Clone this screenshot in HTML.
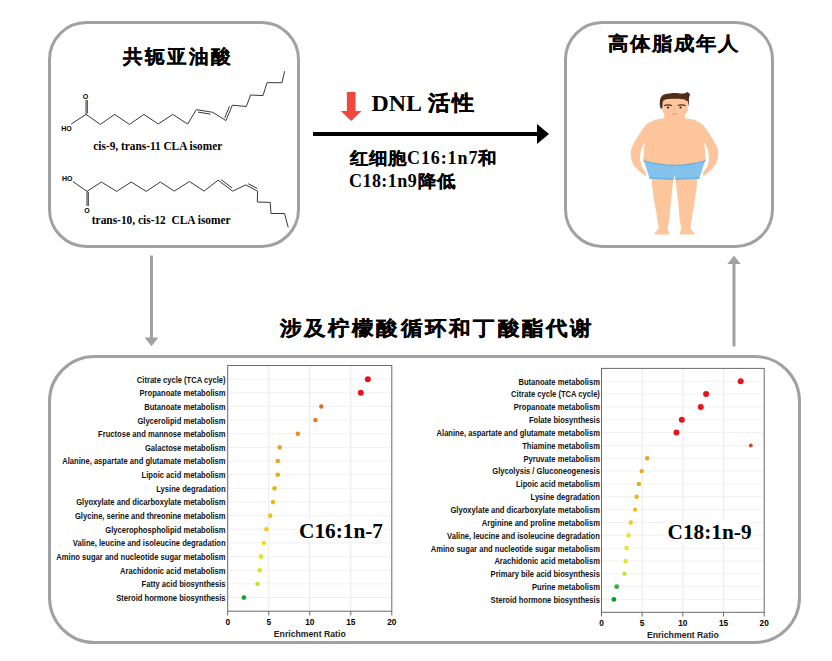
<!DOCTYPE html>
<html><head><meta charset="utf-8">
<style>
html,body{margin:0;padding:0;background:#fff;width:832px;height:661px;overflow:hidden}
svg{display:block}
.cjk{font-family:"Liberation Sans",sans-serif;font-weight:700}
.ser{font-family:"Liberation Serif",serif;font-weight:700}
.lab{font-family:"Liberation Sans",sans-serif;font-weight:700}
</style></head><body>
<svg width="832" height="661" viewBox="0 0 832 661">

<rect x="49.5" y="22.5" width="249" height="224" rx="37" ry="37" fill="none" stroke="#a1a1a1" stroke-width="3"/>
<rect x="565.5" y="22.5" width="207" height="224" rx="37" ry="37" fill="none" stroke="#a1a1a1" stroke-width="3"/>
<rect x="49.5" y="356.5" width="750" height="286" rx="45" ry="45" fill="none" stroke="#a1a1a1" stroke-width="3"/>
<line x1="151.5" y1="255.5" x2="151.5" y2="338" stroke="#a1a1a1" stroke-width="3"/>
<path d="M144.6 337.4 L158.4 337.4 L151.5 346.2 Z" fill="#a1a1a1"/>
<line x1="734" y1="263" x2="734" y2="346.5" stroke="#a1a1a1" stroke-width="3"/>
<path d="M727.3 264 L740.7 264 L734 255.5 Z" fill="#a1a1a1"/>
<line x1="313" y1="134" x2="539" y2="134" stroke="#000" stroke-width="4"/>
<path d="M537 124 L549 134 L537 144 Z" fill="#000"/>
<path d="M346.9 92 L355.5 92 L355.5 111 L361.5 111 L351.2 120.9 L340.9 111 L346.9 111 Z" fill="#f1453e"/>
<text class="cjk" transform="translate(123 63.4) scale(1 0.97)" x="0" y="0" font-size="19.6" letter-spacing="2.7" stroke="#000" stroke-width="0.2">共轭亚油酸</text>
<text class="cjk" transform="translate(608 50.0) scale(1 0.93)" x="0" y="0" font-size="20.3" letter-spacing="1.3" stroke="#000" stroke-width="0.1">高体脂成年人</text>
<text class="cjk" transform="translate(279.5 334.8) scale(1 0.93)" x="0" y="0" font-size="21.5" letter-spacing="2.5" stroke="#000" stroke-width="0.25">涉及柠檬酸循环和丁酸酯代谢</text>
<text class="ser" x="371.5" y="111.1" font-size="23.9">DNL</text>
<text class="cjk" transform="translate(427.5 110.2) scale(1 0.95)" x="0" y="0" font-size="22" letter-spacing="3.2" stroke="#000" stroke-width="0.3">活性</text>
<text class="cjk" transform="translate(349.5 163.5) scale(1 0.92)" x="0" y="0" font-size="18" letter-spacing="1.7" stroke="#000" stroke-width="0.15">红细胞</text>
<text class="ser" x="407" y="163.5" font-size="18" letter-spacing="0.9">C16:1n7</text>
<text class="cjk" transform="translate(478.2 163.5) scale(1 0.92)" x="0" y="0" font-size="18" letter-spacing="0" stroke="#000" stroke-width="0.15">和</text>
<text class="ser" x="349" y="186.5" font-size="18" letter-spacing="0.45">C18:1n9</text>
<text class="cjk" transform="translate(417.6 186.5) scale(1 0.92)" x="0" y="0" font-size="18" letter-spacing="1.7" stroke="#000" stroke-width="0.15">降低</text>
<text class="ser" transform="translate(93.3 150.2) scale(0.9 1)" x="0" y="0" font-size="12.6">cis-9, trans-11 CLA isomer</text>
<text class="ser" transform="translate(91.8 223.5) scale(0.905 1)" x="0" y="0" font-size="12.6" xml:space="preserve">trans-10, cis-12  CLA isomer</text>
<polyline points="71.2,124 86,114.4 100.4,124.4 114.5,114.4 129.5,124.4 143.9,114.4 158.3,124 172.7,114.4 187.7,124 196.3,109.6 212.7,112.3 226,120.6 232.3,105.2 246.3,106.5 250.6,95 263,95.6 267,82.7 282,82.7 284.6,71.2" fill="none" stroke="#383838" stroke-width="1" stroke-linejoin="miter"/>
<line x1="86" y1="114.4" x2="86" y2="100" stroke="#383838" stroke-width="1"/>
<line x1="87.3" y1="113.5" x2="87.3" y2="100" stroke="#383838" stroke-width="1"/>
<text class="lab" x="85.6" y="98.7" font-size="7" text-anchor="middle">O</text>
<text class="lab" x="66.4" y="131" font-size="7" text-anchor="middle">HO</text>
<line x1="197.91" y1="112.09" x2="210.37" y2="114.15" stroke="#383838" stroke-width="1"/>
<line x1="224.72" y1="117.92" x2="229.51" y2="106.22" stroke="#383838" stroke-width="1"/>
<polyline points="73,181.6 87,191.4 101.4,182 116.7,191.4 131.2,182 146.2,191.4 160.3,182 174.3,191.1 189.4,181.5 204.1,191.1 218,180.2 232.7,191.1 245.8,184.9 257.6,191.1 257.3,202 270.2,202.4 271,213.5 284.5,213.5 288.2,227.3" fill="none" stroke="#383838" stroke-width="1"/>
<line x1="87" y1="191.4" x2="87" y2="206" stroke="#383838" stroke-width="1"/>
<line x1="88.3" y1="192" x2="88.3" y2="206" stroke="#383838" stroke-width="1"/>
<text class="lab" x="87" y="213" font-size="7" text-anchor="middle">O</text>
<text class="lab" x="67.3" y="181.3" font-size="7" text-anchor="middle">HO</text>
<line x1="221.07" y1="179.74" x2="232.25" y2="188.02" stroke="#383838" stroke-width="1"/>
<line x1="248.24" y1="183.70" x2="257.21" y2="188.41" stroke="#383838" stroke-width="1"/>
<path d="M662.6 118.5 C654 119.5 647 122.5 643.5 128 C639 135 633.5 142 631 150 C630 157 632 164 636.5 168.5 C639.5 171.5 642.5 174 645.8 176.2 C646.6 174 645.8 172 644.5 170.5 C641.2 167 639.8 161 640.2 155 C640.6 150 642.2 146 644.8 142.5 Z" fill="#fcc59c"/>
<path d="M 686.40 118.50 C 695.00 119.50 702.00 122.50 705.50 128.00 C 710.00 135.00 715.50 142.00 718.00 150.00 C 719.00 157.00 717.00 164.00 712.50 168.50 C 709.50 171.50 706.50 174.00 703.20 176.20 C 702.40 174.00 703.20 172.00 704.50 170.50 C 707.80 167.00 709.20 161.00 708.80 155.00 C 708.40 150.00 706.80 146.00 704.20 142.50 Z" fill="#fcc59c"/>
<path d="M651.5 178 L673.2 178 C673 186 671.5 196 670.6 204.5 C670.2 210 669.8 214 669.6 218 C669.2 222 668 225 667.6 228 C668 230 669.5 232.5 669.2 234.5 L654.3 234.5 C654.5 232.5 657 231 658.8 228 C658 224 657 220 656.8 215 C656.2 211 655.2 208 654.8 204.5 C653.5 196 652 186 651.5 178 Z" fill="#fcc59c"/>
<path d="M 697.50 178.00 L 675.80 178.00 C 676.00 186.00 677.50 196.00 678.40 204.50 C 678.80 210.00 679.20 214.00 679.40 218.00 C 679.80 222.00 681.00 225.00 681.40 228.00 C 681.00 230.00 679.50 232.50 679.80 234.50 L 694.70 234.50 C 694.50 232.50 692.00 231.00 690.20 228.00 C 691.00 224.00 692.00 220.00 692.20 215.00 C 692.80 211.00 693.80 208.00 694.20 204.50 C 695.50 196.00 697.00 186.00 697.50 178.00 Z" fill="#fcc59c"/>
<path d="M665 110 L684.3 110 L685.5 120 L664 120 Z" fill="#fcc59c"/>
<path d="M643.3 159 L705.7 159 L699.2 178.8 L675.6 179.8 L674.5 175.6 L673.4 179.8 L649.7 178.8 Z" fill="#84c2ee"/>
<path d="M649.6 178 L673.6 179 M675.4 179 L699.4 178" fill="none" stroke="#6db1e2" stroke-width="1.3"/>
<path d="M643.3 161.2 Q674.5 170.3 705.7 161.2 L705.8 159.3 Q674.5 168.1 643.3 159.3 Z" fill="#62abd9"/>
<path d="M662.6 118.5 C652 120 646 124 645 132 L644.6 144 C644 150 643.8 155 643.5 160.3 Q674.5 169.1 705.5 160.3 C705.2 155 705 150 704.4 144 L704 132 C703 124 697 120 686.4 118.5 Z" fill="#fcc59c"/>
<path d="M671.3 162.4 Q672.5 163.6 673.8 162.4" fill="none" stroke="#e29a80" stroke-width="0.8"/>
<path d="M662.3 97 L662.3 109.5 C662.6 112 663.8 114.3 665.5 115.6 L665 120 L684.5 120 L684 115.6 C686 114 687.5 111.5 687.9 109.5 L687.9 97 Z" fill="#fcc59c"/>
<path d="M660.6 108.4 C659.5 105 659.3 99.5 661.3 96.7 C663 94.5 665 94 667.6 93.8 C670 93 672 92.9 674.4 92.9 C678 92.9 680 93.8 682.1 93.6 C684 93.5 685.5 93 687.4 92 C689 92.8 690.3 94 689.9 95.3 C689.3 96.5 688.9 97.5 688.9 98.7 L688.9 103.5 L688.4 106.4 L687.9 101.6 C686.5 100.5 685 99.5 683.1 99.2 C680 98.7 677 98.7 674.4 98.7 C671 98.7 668 98.9 666.1 99.2 C664.5 99.7 663.2 100.5 662.7 101.6 L662.3 108.4 Z" fill="#512c19"/>
<path d="M664.2 105.6 C666 105 670 104.9 672 105.5" fill="none" stroke="#4a2c1c" stroke-width="1.2"/>
<path d="M677.8 105.5 C679.8 104.9 683.7 105 685.5 105.6" fill="none" stroke="#4a2c1c" stroke-width="1.2"/>
<ellipse cx="667.6" cy="107.5" rx="2.7" ry="1.1" fill="#fde9da"/>
<ellipse cx="680.8" cy="107.5" rx="2.7" ry="1.1" fill="#fde9da"/>
<ellipse cx="668" cy="107.5" rx="1.3" ry="0.9" fill="#3a2418"/>
<ellipse cx="680.6" cy="107.5" rx="1.3" ry="0.9" fill="#3a2418"/>
<path d="M672 114.2 Q675 113.6 677.8 114.2" fill="none" stroke="#e0a080" stroke-width="1.1"/>
<line x1="268.73" y1="365.5" x2="268.73" y2="611.2" stroke="#e9e9e9" stroke-width="1"/>
<line x1="309.75" y1="365.5" x2="309.75" y2="611.2" stroke="#e9e9e9" stroke-width="1"/>
<line x1="350.77" y1="365.5" x2="350.77" y2="611.2" stroke="#e9e9e9" stroke-width="1"/>
<line x1="227.7" y1="379.15" x2="391.8" y2="379.15" stroke="#f1f1f1" stroke-width="1"/>
<line x1="227.7" y1="392.80" x2="391.8" y2="392.80" stroke="#f1f1f1" stroke-width="1"/>
<line x1="227.7" y1="406.45" x2="391.8" y2="406.45" stroke="#f1f1f1" stroke-width="1"/>
<line x1="227.7" y1="420.10" x2="391.8" y2="420.10" stroke="#f1f1f1" stroke-width="1"/>
<line x1="227.7" y1="433.75" x2="391.8" y2="433.75" stroke="#f1f1f1" stroke-width="1"/>
<line x1="227.7" y1="447.40" x2="391.8" y2="447.40" stroke="#f1f1f1" stroke-width="1"/>
<line x1="227.7" y1="461.05" x2="391.8" y2="461.05" stroke="#f1f1f1" stroke-width="1"/>
<line x1="227.7" y1="474.70" x2="391.8" y2="474.70" stroke="#f1f1f1" stroke-width="1"/>
<line x1="227.7" y1="488.35" x2="391.8" y2="488.35" stroke="#f1f1f1" stroke-width="1"/>
<line x1="227.7" y1="502.00" x2="391.8" y2="502.00" stroke="#f1f1f1" stroke-width="1"/>
<line x1="227.7" y1="515.65" x2="391.8" y2="515.65" stroke="#f1f1f1" stroke-width="1"/>
<line x1="227.7" y1="529.30" x2="391.8" y2="529.30" stroke="#f1f1f1" stroke-width="1"/>
<line x1="227.7" y1="542.95" x2="391.8" y2="542.95" stroke="#f1f1f1" stroke-width="1"/>
<line x1="227.7" y1="556.60" x2="391.8" y2="556.60" stroke="#f1f1f1" stroke-width="1"/>
<line x1="227.7" y1="570.25" x2="391.8" y2="570.25" stroke="#f1f1f1" stroke-width="1"/>
<line x1="227.7" y1="583.90" x2="391.8" y2="583.90" stroke="#f1f1f1" stroke-width="1"/>
<line x1="227.7" y1="597.55" x2="391.8" y2="597.55" stroke="#f1f1f1" stroke-width="1"/>
<rect x="227.7" y="365.5" width="164.10000000000002" height="245.70000000000005" fill="none" stroke="#6a6a6a" stroke-width="1"/>
<line x1="227.70" y1="611.2" x2="227.70" y2="615.4000000000001" stroke="#6a6a6a" stroke-width="1"/>
<text class="lab" x="227.70" y="624.5" font-size="8.3" text-anchor="middle">0</text>
<line x1="268.73" y1="611.2" x2="268.73" y2="615.4000000000001" stroke="#6a6a6a" stroke-width="1"/>
<text class="lab" x="268.73" y="624.5" font-size="8.3" text-anchor="middle">5</text>
<line x1="309.75" y1="611.2" x2="309.75" y2="615.4000000000001" stroke="#6a6a6a" stroke-width="1"/>
<text class="lab" x="309.75" y="624.5" font-size="8.3" text-anchor="middle">10</text>
<line x1="350.77" y1="611.2" x2="350.77" y2="615.4000000000001" stroke="#6a6a6a" stroke-width="1"/>
<text class="lab" x="350.77" y="624.5" font-size="8.3" text-anchor="middle">15</text>
<line x1="391.80" y1="611.2" x2="391.80" y2="615.4000000000001" stroke="#6a6a6a" stroke-width="1"/>
<text class="lab" x="391.80" y="624.5" font-size="8.3" text-anchor="middle">20</text>
<text class="lab" x="309.75" y="636.8000000000001" font-size="8.7" text-anchor="middle" fill="#222">Enrichment Ratio</text>
<text class="lab" transform="translate(225.6 382.55) scale(0.875 1)" x="0" y="0" font-size="8.7" text-anchor="end" fill="#111">Citrate cycle (TCA cycle)</text>
<text class="lab" transform="translate(225.6 396.20) scale(0.875 1)" x="0" y="0" font-size="8.7" text-anchor="end" fill="#111">Propanoate metabolism</text>
<text class="lab" transform="translate(225.6 409.85) scale(0.875 1)" x="0" y="0" font-size="8.7" text-anchor="end" fill="#111">Butanoate metabolism</text>
<text class="lab" transform="translate(225.6 423.50) scale(0.875 1)" x="0" y="0" font-size="8.7" text-anchor="end" fill="#111">Glycerolipid metabolism</text>
<text class="lab" transform="translate(225.6 437.15) scale(0.875 1)" x="0" y="0" font-size="8.7" text-anchor="end" fill="#111">Fructose and mannose metabolism</text>
<text class="lab" transform="translate(225.6 450.80) scale(0.875 1)" x="0" y="0" font-size="8.7" text-anchor="end" fill="#111">Galactose metabolism</text>
<text class="lab" transform="translate(225.6 464.45) scale(0.875 1)" x="0" y="0" font-size="8.7" text-anchor="end" fill="#111">Alanine, aspartate and glutamate metabolism</text>
<text class="lab" transform="translate(225.6 478.10) scale(0.875 1)" x="0" y="0" font-size="8.7" text-anchor="end" fill="#111">Lipoic acid metabolism</text>
<text class="lab" transform="translate(225.6 491.75) scale(0.875 1)" x="0" y="0" font-size="8.7" text-anchor="end" fill="#111">Lysine degradation</text>
<text class="lab" transform="translate(225.6 505.40) scale(0.875 1)" x="0" y="0" font-size="8.7" text-anchor="end" fill="#111">Glyoxylate and dicarboxylate metabolism</text>
<text class="lab" transform="translate(225.6 519.05) scale(0.875 1)" x="0" y="0" font-size="8.7" text-anchor="end" fill="#111">Glycine, serine and threonine metabolism</text>
<text class="lab" transform="translate(225.6 532.70) scale(0.875 1)" x="0" y="0" font-size="8.7" text-anchor="end" fill="#111">Glycerophospholipid metabolism</text>
<text class="lab" transform="translate(225.6 546.35) scale(0.875 1)" x="0" y="0" font-size="8.7" text-anchor="end" fill="#111">Valine, leucine and isoleucine degradation</text>
<text class="lab" transform="translate(225.6 560.00) scale(0.875 1)" x="0" y="0" font-size="8.7" text-anchor="end" fill="#111">Amino sugar and nucleotide sugar metabolism</text>
<text class="lab" transform="translate(225.6 573.65) scale(0.875 1)" x="0" y="0" font-size="8.7" text-anchor="end" fill="#111">Arachidonic acid metabolism</text>
<text class="lab" transform="translate(225.6 587.30) scale(0.875 1)" x="0" y="0" font-size="8.7" text-anchor="end" fill="#111">Fatty acid biosynthesis</text>
<text class="lab" transform="translate(225.6 600.95) scale(0.875 1)" x="0" y="0" font-size="8.7" text-anchor="end" fill="#111">Steroid hormone biosynthesis</text>
<circle cx="367.8" cy="379.15" r="3" fill="#e3141b"/>
<circle cx="360.8" cy="392.80" r="3" fill="#e3141b"/>
<circle cx="321.3" cy="406.45" r="2.2" fill="#e2672a"/>
<circle cx="315.4" cy="420.10" r="2.2" fill="#e8711a"/>
<circle cx="297.9" cy="433.75" r="2.2" fill="#e98a22"/>
<circle cx="279.7" cy="447.40" r="2.3" fill="#e2a725"/>
<circle cx="277.8" cy="461.05" r="2.3" fill="#e2a725"/>
<circle cx="277.8" cy="474.70" r="2.3" fill="#e2ab22"/>
<circle cx="274.5" cy="488.35" r="2.3" fill="#e6b41c"/>
<circle cx="273" cy="502.00" r="2.3" fill="#e9b91a"/>
<circle cx="270.2" cy="515.65" r="2.3" fill="#f0c312"/>
<circle cx="266.5" cy="529.30" r="2.3" fill="#f3cd10"/>
<circle cx="263.9" cy="542.95" r="2.3" fill="#f1dc14"/>
<circle cx="261" cy="556.60" r="2.3" fill="#e6e216"/>
<circle cx="259.8" cy="570.25" r="2.3" fill="#dde41c"/>
<circle cx="257.5" cy="583.90" r="2.3" fill="#cfe125"/>
<circle cx="243.9" cy="597.55" r="2.4" fill="#12a33a"/>
<line x1="642.17" y1="368.4" x2="642.17" y2="612.3" stroke="#e9e9e9" stroke-width="1"/>
<line x1="682.85" y1="368.4" x2="682.85" y2="612.3" stroke="#e9e9e9" stroke-width="1"/>
<line x1="723.53" y1="368.4" x2="723.53" y2="612.3" stroke="#e9e9e9" stroke-width="1"/>
<line x1="601.5" y1="381.24" x2="764.2" y2="381.24" stroke="#f1f1f1" stroke-width="1"/>
<line x1="601.5" y1="394.07" x2="764.2" y2="394.07" stroke="#f1f1f1" stroke-width="1"/>
<line x1="601.5" y1="406.91" x2="764.2" y2="406.91" stroke="#f1f1f1" stroke-width="1"/>
<line x1="601.5" y1="419.75" x2="764.2" y2="419.75" stroke="#f1f1f1" stroke-width="1"/>
<line x1="601.5" y1="432.58" x2="764.2" y2="432.58" stroke="#f1f1f1" stroke-width="1"/>
<line x1="601.5" y1="445.42" x2="764.2" y2="445.42" stroke="#f1f1f1" stroke-width="1"/>
<line x1="601.5" y1="458.26" x2="764.2" y2="458.26" stroke="#f1f1f1" stroke-width="1"/>
<line x1="601.5" y1="471.09" x2="764.2" y2="471.09" stroke="#f1f1f1" stroke-width="1"/>
<line x1="601.5" y1="483.93" x2="764.2" y2="483.93" stroke="#f1f1f1" stroke-width="1"/>
<line x1="601.5" y1="496.77" x2="764.2" y2="496.77" stroke="#f1f1f1" stroke-width="1"/>
<line x1="601.5" y1="509.61" x2="764.2" y2="509.61" stroke="#f1f1f1" stroke-width="1"/>
<line x1="601.5" y1="522.44" x2="764.2" y2="522.44" stroke="#f1f1f1" stroke-width="1"/>
<line x1="601.5" y1="535.28" x2="764.2" y2="535.28" stroke="#f1f1f1" stroke-width="1"/>
<line x1="601.5" y1="548.12" x2="764.2" y2="548.12" stroke="#f1f1f1" stroke-width="1"/>
<line x1="601.5" y1="560.95" x2="764.2" y2="560.95" stroke="#f1f1f1" stroke-width="1"/>
<line x1="601.5" y1="573.79" x2="764.2" y2="573.79" stroke="#f1f1f1" stroke-width="1"/>
<line x1="601.5" y1="586.63" x2="764.2" y2="586.63" stroke="#f1f1f1" stroke-width="1"/>
<line x1="601.5" y1="599.46" x2="764.2" y2="599.46" stroke="#f1f1f1" stroke-width="1"/>
<rect x="601.5" y="368.4" width="162.70000000000005" height="243.89999999999998" fill="none" stroke="#6a6a6a" stroke-width="1"/>
<line x1="601.50" y1="612.3" x2="601.50" y2="616.5" stroke="#6a6a6a" stroke-width="1"/>
<text class="lab" x="601.50" y="625.5999999999999" font-size="8.3" text-anchor="middle">0</text>
<line x1="642.17" y1="612.3" x2="642.17" y2="616.5" stroke="#6a6a6a" stroke-width="1"/>
<text class="lab" x="642.17" y="625.5999999999999" font-size="8.3" text-anchor="middle">5</text>
<line x1="682.85" y1="612.3" x2="682.85" y2="616.5" stroke="#6a6a6a" stroke-width="1"/>
<text class="lab" x="682.85" y="625.5999999999999" font-size="8.3" text-anchor="middle">10</text>
<line x1="723.53" y1="612.3" x2="723.53" y2="616.5" stroke="#6a6a6a" stroke-width="1"/>
<text class="lab" x="723.53" y="625.5999999999999" font-size="8.3" text-anchor="middle">15</text>
<line x1="764.20" y1="612.3" x2="764.20" y2="616.5" stroke="#6a6a6a" stroke-width="1"/>
<text class="lab" x="764.20" y="625.5999999999999" font-size="8.3" text-anchor="middle">20</text>
<text class="lab" x="682.85" y="637.9" font-size="8.7" text-anchor="middle" fill="#222">Enrichment Ratio</text>
<text class="lab" transform="translate(599.9 384.64) scale(0.875 1)" x="0" y="0" font-size="8.7" text-anchor="end" fill="#111">Butanoate metabolism</text>
<text class="lab" transform="translate(599.9 397.47) scale(0.875 1)" x="0" y="0" font-size="8.7" text-anchor="end" fill="#111">Citrate cycle (TCA cycle)</text>
<text class="lab" transform="translate(599.9 410.31) scale(0.875 1)" x="0" y="0" font-size="8.7" text-anchor="end" fill="#111">Propanoate metabolism</text>
<text class="lab" transform="translate(599.9 423.15) scale(0.875 1)" x="0" y="0" font-size="8.7" text-anchor="end" fill="#111">Folate biosynthesis</text>
<text class="lab" transform="translate(599.9 435.98) scale(0.875 1)" x="0" y="0" font-size="8.7" text-anchor="end" fill="#111">Alanine, aspartate and glutamate metabolism</text>
<text class="lab" transform="translate(599.9 448.82) scale(0.875 1)" x="0" y="0" font-size="8.7" text-anchor="end" fill="#111">Thiamine metabolism</text>
<text class="lab" transform="translate(599.9 461.66) scale(0.875 1)" x="0" y="0" font-size="8.7" text-anchor="end" fill="#111">Pyruvate metabolism</text>
<text class="lab" transform="translate(599.9 474.49) scale(0.875 1)" x="0" y="0" font-size="8.7" text-anchor="end" fill="#111">Glycolysis / Gluconeogenesis</text>
<text class="lab" transform="translate(599.9 487.33) scale(0.875 1)" x="0" y="0" font-size="8.7" text-anchor="end" fill="#111">Lipoic acid metabolism</text>
<text class="lab" transform="translate(599.9 500.17) scale(0.875 1)" x="0" y="0" font-size="8.7" text-anchor="end" fill="#111">Lysine degradation</text>
<text class="lab" transform="translate(599.9 513.01) scale(0.875 1)" x="0" y="0" font-size="8.7" text-anchor="end" fill="#111">Glyoxylate and dicarboxylate metabolism</text>
<text class="lab" transform="translate(599.9 525.84) scale(0.875 1)" x="0" y="0" font-size="8.7" text-anchor="end" fill="#111">Arginine and proline metabolism</text>
<text class="lab" transform="translate(599.9 538.68) scale(0.875 1)" x="0" y="0" font-size="8.7" text-anchor="end" fill="#111">Valine, leucine and isoleucine degradation</text>
<text class="lab" transform="translate(599.9 551.52) scale(0.875 1)" x="0" y="0" font-size="8.7" text-anchor="end" fill="#111">Amino sugar and nucleotide sugar metabolism</text>
<text class="lab" transform="translate(599.9 564.35) scale(0.875 1)" x="0" y="0" font-size="8.7" text-anchor="end" fill="#111">Arachidonic acid metabolism</text>
<text class="lab" transform="translate(599.9 577.19) scale(0.875 1)" x="0" y="0" font-size="8.7" text-anchor="end" fill="#111">Primary bile acid biosynthesis</text>
<text class="lab" transform="translate(599.9 590.03) scale(0.875 1)" x="0" y="0" font-size="8.7" text-anchor="end" fill="#111">Purine metabolism</text>
<text class="lab" transform="translate(599.9 602.86) scale(0.875 1)" x="0" y="0" font-size="8.7" text-anchor="end" fill="#111">Steroid hormone biosynthesis</text>
<circle cx="740.7" cy="381.24" r="3" fill="#e5141b"/>
<circle cx="706.1" cy="394.07" r="3" fill="#e5141b"/>
<circle cx="700.8" cy="406.91" r="3" fill="#e5141b"/>
<circle cx="681.8" cy="419.75" r="3" fill="#e5141b"/>
<circle cx="676.5" cy="432.58" r="3" fill="#e5141b"/>
<circle cx="750.8" cy="445.42" r="2" fill="#d9442a"/>
<circle cx="647.2" cy="458.26" r="2.2" fill="#e6a328"/>
<circle cx="641.7" cy="471.09" r="2.2" fill="#e3a82a"/>
<circle cx="638.9" cy="483.93" r="2.2" fill="#e3ad22"/>
<circle cx="636.6" cy="496.77" r="2.2" fill="#e4b622"/>
<circle cx="635.1" cy="509.61" r="2.2" fill="#e6be22"/>
<circle cx="630.8" cy="522.44" r="2.2" fill="#eccd22"/>
<circle cx="628.5" cy="535.28" r="2.2" fill="#efdf1e"/>
<circle cx="626.5" cy="548.12" r="2.2" fill="#e6e61c"/>
<circle cx="625.6" cy="560.95" r="2.2" fill="#dde62a"/>
<circle cx="624.5" cy="573.79" r="2.2" fill="#cfe02e"/>
<circle cx="616.7" cy="586.63" r="2.4" fill="#35b03a"/>
<circle cx="613.9" cy="599.46" r="2.4" fill="#129a2c"/>
<rect x="296" y="519" width="88" height="23" fill="#fff"/>
<text class="ser" x="299" y="537.9" font-size="21.3">C16:1n-7</text>
<rect x="665" y="520" width="88" height="23" fill="#fff"/>
<text class="ser" x="667.6" y="539" font-size="21.3">C18:1n-9</text>
</svg></body></html>
